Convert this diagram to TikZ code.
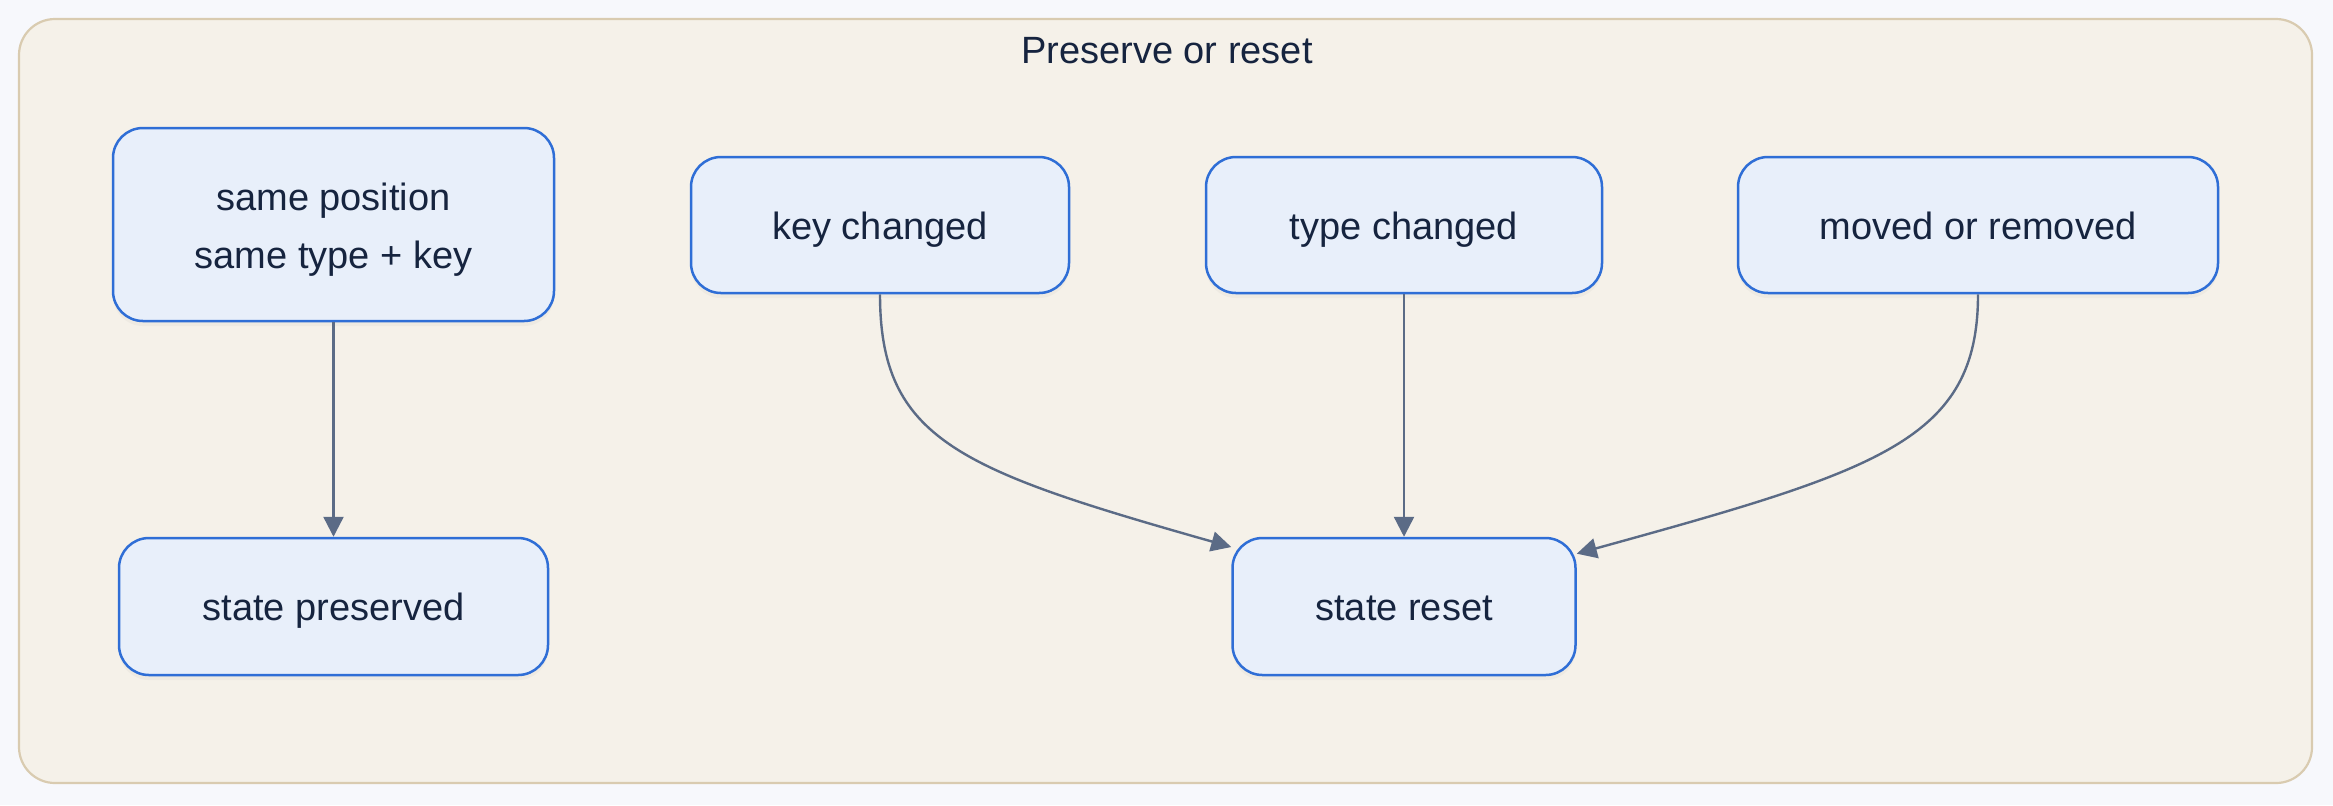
\documentclass[tikz,border=0pt]{standalone}
\usepackage{fontspec}
\setmainfont{Liberation Sans}
\usetikzlibrary{arrows.meta,shadows}
\definecolor{pagebg}{HTML}{F7F8FC}
\definecolor{framefill}{HTML}{F5F1E9}
\definecolor{framedraw}{HTML}{D9CBB0}
\definecolor{nodefill}{HTML}{E8EFFA}
\definecolor{nodedraw}{HTML}{2F6ED6}
\definecolor{nodetext}{HTML}{16243F}
\definecolor{conncol}{HTML}{5B6B86}
\tikzset{
  stbox/.style={rectangle, rounded corners=15pt, fill=nodefill, draw=nodedraw,
    line width=1.25pt, text=nodetext, align=center, inner sep=0pt,
    font=\fontsize{19}{29}\selectfont, text height=18pt, text depth=4pt,
    drop shadow={opacity=0.06, shadow xshift=0pt, shadow yshift=-2.5pt}},
  conn/.style={draw=conncol, line width=1.2pt,
    -{Triangle[length=10pt,width=10pt]}, fill=none},
}
\begin{document}
\begin{tikzpicture}[x=0.5pt,y=-0.5pt]
\useasboundingbox (0,0) rectangle (2333,805);
\fill[pagebg] (0,0) rectangle (2333,805);
\draw[fill=framefill, draw=framedraw, line width=1.1pt, rounded corners=18pt] (19,19) rectangle (2312,783);
\node[text=nodetext, anchor=base, font=\fontsize{19}{23}\selectfont] (title) at (1167,63) {Preserve or reset};

\node[stbox, text height=47.5pt, text depth=4pt, minimum width=220.5pt, minimum height=96.5pt] (A) at (333.5,224.5) {same position\\same type + key};
\node[stbox, minimum width=214.5pt, minimum height=68.5pt] (P) at (333.5,606.5) {state preserved};
\node[stbox, minimum width=189pt, minimum height=68pt] (K) at (880,225) {key changed};
\node[stbox, minimum width=198pt, minimum height=68pt] (T) at (1404,225) {type changed};
\node[stbox, minimum width=240pt, minimum height=68pt] (M) at (1978,225) {moved or removed};
\node[stbox, minimum width=171.5pt, minimum height=68.5pt] (R) at (1404,606.5) {state reset};

\draw[conn] (A.south) -- (P.north);
\draw[conn] (T.south) -- (R.north);
\draw[conn] (K.south) .. controls (880,440) and (960,470) .. (R.161);
\draw[conn] (M.south) .. controls (1978,440) and (1880,470) .. (R.17.4);
\end{tikzpicture}
\end{document}
